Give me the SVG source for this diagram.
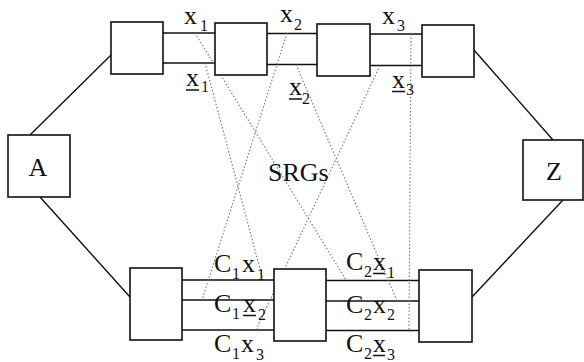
<svg xmlns="http://www.w3.org/2000/svg" width="584" height="362" viewBox="0 0 584 362">
<style>
.box{fill:#fff;stroke:#111;stroke-width:1.6}
.ln{stroke:#111;stroke-width:1.4;fill:none}
.srg{stroke:#777;stroke-width:1.1;stroke-dasharray:1.5 2;fill:none}
.t{font-family:"Liberation Serif","Times New Roman",serif;font-size:26px;fill:#111}
.s{font-family:"Liberation Serif","Times New Roman",serif;font-size:16px;fill:#111}
.ul{stroke:#111;stroke-width:1.5}
</style>
<rect width="584" height="362" fill="#fff"/>
<g id="connectors">
<line class="ln" x1="30" y1="135" x2="111" y2="55"/>
<line class="ln" x1="40" y1="197" x2="130" y2="297"/>
<line class="ln" x1="474" y1="50" x2="553" y2="140"/>
<line class="ln" x1="563" y1="200" x2="472" y2="297"/>
<line class="ln" x1="163" y1="33" x2="215" y2="33"/>
<line class="ln" x1="163" y1="63" x2="215" y2="63"/>
<line class="ln" x1="267" y1="33.5" x2="317" y2="33.5"/>
<line class="ln" x1="267" y1="64.5" x2="317" y2="64.5"/>
<line class="ln" x1="370" y1="34" x2="422" y2="34"/>
<line class="ln" x1="370" y1="65.5" x2="422" y2="65.5"/>
<line class="ln" x1="182" y1="280" x2="274" y2="280"/>
<line class="ln" x1="182" y1="300" x2="274" y2="300"/>
<line class="ln" x1="182" y1="330" x2="274" y2="330"/>
<line class="ln" x1="326" y1="280.5" x2="419" y2="280.5"/>
<line class="ln" x1="326" y1="301" x2="419" y2="301"/>
<line class="ln" x1="326" y1="330.5" x2="419" y2="330.5"/>
<line class="srg" x1="195" y1="33" x2="346" y2="280"/>
<line class="srg" x1="205" y1="63" x2="263" y2="280"/>
<line class="srg" x1="287" y1="33" x2="202" y2="300"/>
<line class="srg" x1="296" y1="64.5" x2="397" y2="301"/>
<line class="srg" x1="380" y1="65.5" x2="256" y2="330"/>
<line class="srg" x1="411" y1="34" x2="409" y2="330.5"/>
</g>
<g id="A"><rect class="box" x="8" y="135" width="62" height="62"/><text class="t" x="38" y="176" text-anchor="middle">A</text></g>
<g id="Z"><rect class="box" x="523" y="140" width="60" height="60"/><text class="t" x="554" y="180" text-anchor="middle">Z</text></g>
<g id="t1"><rect class="box" x="111" y="22" width="52" height="52"/></g>
<g id="t2"><rect class="box" x="215" y="23" width="52" height="52"/></g>
<g id="t3"><rect class="box" x="317" y="24" width="53" height="52"/></g>
<g id="t4"><rect class="box" x="422" y="25" width="52" height="52"/></g>
<g id="b1"><rect class="box" x="130" y="268" width="52" height="72"/></g>
<g id="b2"><rect class="box" x="274" y="269" width="52" height="72"/></g>
<g id="b3"><rect class="box" x="419" y="270" width="53" height="72"/></g>
<g id="labels">
<text class="t" x="184" y="24">x</text><text class="s" x="200" y="31">1</text>
<text class="t" x="280" y="22">x</text><text class="s" x="294" y="30">2</text>
<text class="t" x="382" y="24">x</text><text class="s" x="397" y="31">3</text>
<text class="t" x="186" y="86">x</text><text class="s" x="201" y="92">1</text><line class="ul" x1="186" y1="90" x2="199" y2="90"/>
<text class="t" x="289" y="95">x</text><text class="s" x="302" y="104">2</text><line class="ul" x1="289" y1="99" x2="302" y2="99"/>
<text class="t" x="392" y="88">x</text><text class="s" x="406" y="95">3</text><line class="ul" x1="392" y1="91.5" x2="405" y2="91.5"/>
<text class="t" x="268" y="181">SRGs</text>
<text class="t" x="214" y="272">C</text><text class="s" x="232" y="279">1</text><text class="t" x="242" y="272">x</text><text class="s" x="257" y="280">1</text>
<text class="t" x="214" y="312">C</text><text class="s" x="232" y="319">1</text><text class="t" x="243" y="312">x</text><text class="s" x="258" y="320">2</text><line class="ul" x1="243" y1="315.5" x2="256" y2="315.5"/>
<text class="t" x="214" y="352">C</text><text class="s" x="232" y="359">1</text><text class="t" x="241" y="352">x</text><text class="s" x="256" y="360">3</text>
<text class="t" x="346" y="270">C</text><text class="s" x="364" y="277">2</text><text class="t" x="373" y="270">x</text><text class="s" x="387" y="278">1</text><line class="ul" x1="373" y1="273.5" x2="385" y2="273.5"/>
<text class="t" x="346" y="313">C</text><text class="s" x="364" y="320">2</text><text class="t" x="373" y="313">x</text><text class="s" x="387" y="320">2</text>
<text class="t" x="346" y="352">C</text><text class="s" x="364" y="359">2</text><text class="t" x="373" y="352">x</text><text class="s" x="387" y="360">3</text><line class="ul" x1="373" y1="355.5" x2="385" y2="355.5"/>
</g>
</svg>
